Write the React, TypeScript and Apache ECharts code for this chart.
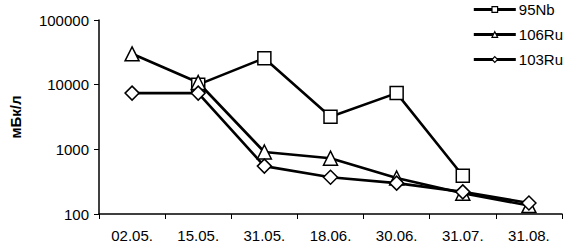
import React, { useEffect, useRef } from "react";
import * as echarts from "echarts";

const categories = ["02.05.", "15.05.", "31.05.", "18.06.", "30.06.", "31.07.", "31.08."];
const nb95 = [null, 10000, 25700, 3200, 7400, 390, null];
const ru106 = [30000, 10800, 910, 730, 360, 210, 135];
const ru103 = [7400, 7400, 550, 370, 300, 220, 148];
const yTickLabels = ["100", "1000", "10000", "100000"];
const seriesNames = ["95Nb", "106Ru", "103Ru"];

export default function App() {
  const ref = useRef<HTMLDivElement>(null);
  useEffect(() => {
    const chart = echarts.init(ref.current!, null, { renderer: "svg" });
    const font = "Liberation Sans, Arial, sans-serif";
    const mk = (name: string, data: (number | null)[], symbol: string, size: number) => ({
      name,
      type: "line",
      data: data.map((v) => (v == null ? "-" : v)),
      symbol,
      symbolSize: size,
      showAllSymbol: true,
      connectNulls: false,
      lineStyle: { color: "#000", width: 2.6 },
      itemStyle: { color: "#fff", borderColor: "#000", borderWidth: 1.5 },
      emphasis: { disabled: true },
      z: 2,
    });
    chart.setOption({
      animation: false,
      backgroundColor: "#fff",
      grid: { left: 90, top: 20, right: 2, bottom: 29, containLabel: false },
      legend: {
        orient: "vertical",
        right: 1,
        top: 2,
        padding: 0,
        borderWidth: 0,
        itemWidth: 42,
        itemHeight: 7,
        itemGap: 10,
        lineStyle: { width: 3 },
        itemStyle: { borderWidth: 1.2 },
        textStyle: { fontFamily: font, fontSize: 15, color: "#000", padding: [0, 0, 0, -2] },
        data: seriesNames,
      },
      xAxis: {
        type: "category",
        data: categories,
        boundaryGap: true,
        axisLine: { lineStyle: { color: "#000", width: 1.5 } },
        axisTick: { show: true, length: 5, lineStyle: { color: "#000", width: 1 } },
        axisLabel: { fontFamily: font, fontSize: 15, color: "#000", margin: 14 },
      },
      yAxis: {
        type: "log",
        logBase: 10,
        min: 100,
        max: 100000,
        name: "мБк/л",
        nameLocation: "middle",
        nameRotate: 90,
        nameGap: 76,
        nameTextStyle: { fontFamily: font, fontSize: 15, fontWeight: "bold", color: "#000" },
        axisLine: { show: true, lineStyle: { color: "#000", width: 1.5 } },
        axisTick: { show: true, length: 5, inside: false, lineStyle: { color: "#000", width: 1 } },
        splitLine: { show: false },
        minorTick: { show: false },
        axisLabel: {
          fontFamily: font,
          fontSize: 15,
          color: "#000",
          margin: 10,
          formatter: (v: number) => {
            const idx = Math.round(Math.log10(v)) - 2;
            return yTickLabels[idx] ?? String(v);
          },
        },
      },
      series: [
        mk("95Nb", nb95, "rect", 13),
        mk("106Ru", ru106, "triangle", 14),
        mk("103Ru", ru103, "diamond", 14),
      ],
    });
    return () => chart.dispose();
  }, []);
  return (
    <div
      ref={ref}
      style={{ position: "fixed", left: 0, top: 0, width: 564, height: 243, background: "#fff" }}
    />
  );
}
